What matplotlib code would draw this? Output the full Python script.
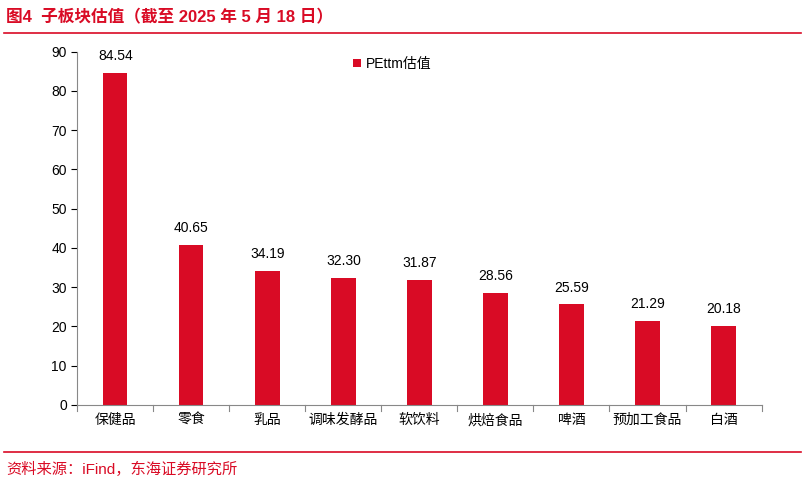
import matplotlib
matplotlib.use("Agg")
import matplotlib.pyplot as plt
from matplotlib.lines import Line2D

plt.rcParams['font.family'] = ['Liberation Sans', 'Noto Sans CJK SC', 'DejaVu Sans']

categories = ["保健品", "零食", "乳品", "调味发酵品", "软饮料", "烘焙食品", "啤酒", "预加工食品", "白酒"]
values = [84.54, 40.65, 34.19, 32.30, 31.87, 28.56, 25.59, 21.29, 20.18]
red = "#D90B25"

fig = plt.figure(figsize=(8.05, 4.86), dpi=100)
ax = fig.add_axes([0.096, 0.167, 0.85, 0.727])
ax.bar(range(len(categories)), values, width=0.32, color=red, label="PEttm估值")
for i, v in enumerate(values):
    ax.text(i, v + 2.5, f"{v:.2f}", ha="center", va="bottom", fontsize=10)
ax.set_ylim(0, 90)
ax.set_yticks(range(0, 91, 10))
ax.set_xlim(-0.5, len(categories) - 0.5)
ax.set_xticks(range(len(categories)))
ax.set_xticklabels(categories, fontsize=10)
ax.tick_params(axis='y', labelsize=10, length=4)
ax.tick_params(axis='x', length=0, pad=6)
for b in [i + 0.5 for i in range(-1, len(categories))]:
    ax.plot([b, b], [0, -1.5], color="#888888", lw=0.8, clip_on=False)
for s in ["top", "right"]:
    ax.spines[s].set_visible(False)
for s in ["left", "bottom"]:
    ax.spines[s].set_color("#888888")
ax.legend(loc="upper center", bbox_to_anchor=(0.46, 1.02), frameon=False, fontsize=10,
          handlelength=0.6, handleheight=0.6, handletextpad=0.3)

fig.text(0.008, 0.965, "图4  子板块估值（截至 2025 年 5 月 18 日）", color=red, fontsize=12,
         fontweight="bold", va="center")
fig.add_artist(Line2D([0.005, 0.995], [0.932, 0.932], color=red, lw=1.2))
fig.add_artist(Line2D([0.005, 0.995], [0.07, 0.07], color=red, lw=1.2))
fig.text(0.008, 0.035, "资料来源：iFind，东海证券研究所", color=red, fontsize=11, va="center")

fig.savefig("out.png", dpi=100)
